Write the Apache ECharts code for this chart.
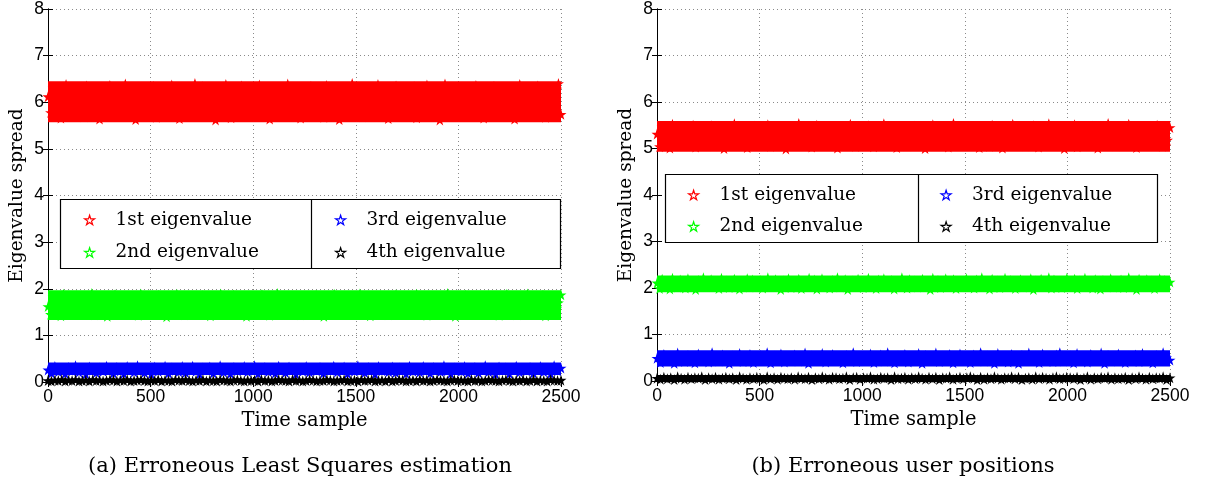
<!DOCTYPE html>
<html>
<head>
<meta charset="utf-8">
<script src="https://cdn.jsdelivr.net/npm/echarts@6/dist/echarts.min.js"></script>
<style>html,body{margin:0;padding:0;background:#fff;}#chart{width:1207px;height:487px;}</style>
</head>
<body>
<div id="chart"></div>
<script>
// ---------- data (sampled read-outs of the dense eigenvalue bands) ----------
const timeRange = [0, 2500];
const yTicks = [0, 1, 2, 3, 4, 5, 6, 7, 8];
const xTicks = [0, 500, 1000, 1500, 2000, 2500];
const seriesNames = ['1st eigenvalue', '2nd eigenvalue', '3rd eigenvalue', '4th eigenvalue'];
const captionA = '(a) Erroneous Least Squares estimation';
const captionB = '(b) Erroneous user positions';

// dense core of each band (where the 2500 markers overlap into a solid region): [low, high]
const lsCoreLow  = [5.57, 1.33, 0.15, 0.00];
const lsCoreHigh = [6.45, 1.97, 0.42, 0.07];
const upCoreLow  = [4.93, 1.91, 0.31, -0.01];
const upCoreHigh = [5.59, 2.27, 0.66, 0.13];

// (a) Erroneous Least Squares estimation
const lsEig1 = [6.12,5.78,6.31,5.95,6.04,5.66,6.22,6.38,5.84,6.01,5.72,6.27,5.91,6.15,5.69,6.35,6.08,5.81,6.19,5.97,
5.64,6.29,6.03,5.88,6.36,5.75,6.11,5.93,6.24,5.70,6.39,5.86,6.06,6.17,5.63,6.32,5.99,5.79,6.21,6.09,
5.83,6.34,5.68,6.14,5.96,6.26,5.74,6.02,6.37,5.89,6.18,5.65,6.30,5.92,6.07,5.77,6.23,6.40,5.85,6.00,
6.33,5.71,6.16,5.94,6.28,5.62,6.05,6.20,5.80,6.38,5.98,5.67,6.25,6.10,5.87,6.35,5.73,6.13,5.90,6.29,
5.76,6.06,6.37,5.82,6.19,5.97,5.64,6.31,6.02,5.88,6.24,5.70,6.15,6.39,5.93,5.79,6.27,6.04,5.66,6.21,
6.11,5.86,6.34,5.73,6.08,6.26,5.95,5.68,6.36,6.00,5.81,6.18,6.32,5.63,6.13,5.91,6.23,5.77,6.40,6.03,
5.89,6.17,5.69,6.30,6.07,5.84,6.22,5.96,6.38,5.74,6.12,6.01,5.65,6.28,5.92,6.35,5.80,6.09,6.19,5.71,
6.25,5.98,6.33,5.67,6.14,5.87,6.05,6.37,5.78,6.20,5.94,6.29,5.62,6.10,6.39,5.85,6.02,6.24,5.75,6.16,
5.99,6.31,5.72,6.06,6.27,5.83,6.36,5.90,6.13,5.66,6.21,6.04,5.79,6.34,5.96,6.18,5.70,6.08,6.30,5.88,
6.15,5.64,6.23,6.38,5.93,6.01,5.76,6.26,6.11,5.82,6.35,5.97,6.07,5.68,6.32,6.19,5.86,6.03,6.40,5.74];
const lsEig2 = [1.62,1.45,1.83,1.57,1.71,1.42,1.88,1.66,1.50,1.77,1.59,1.85,1.47,1.69,1.79,1.53,1.64,1.90,1.44,1.74,
1.56,1.81,1.68,1.41,1.76,1.60,1.87,1.49,1.72,1.63,1.84,1.46,1.58,1.80,1.67,1.43,1.89,1.55,1.70,1.61,
1.78,1.48,1.65,1.86,1.52,1.73,1.40,1.82,1.60,1.69,1.88,1.54,1.75,1.44,1.66,1.83,1.51,1.77,1.63,1.47,
1.85,1.58,1.71,1.42,1.80,1.64,1.50,1.89,1.67,1.56,1.74,1.45,1.86,1.61,1.79,1.53,1.68,1.41,1.84,1.72,
1.49,1.76,1.62,1.87,1.55,1.70,1.43,1.81,1.65,1.90,1.52,1.73,1.59,1.46,1.83,1.68,1.57,1.78,1.44,1.66,
1.82,1.54,1.69,1.48,1.86,1.63,1.75,1.41,1.60,1.79,1.51,1.88,1.67,1.45,1.72,1.84,1.58,1.64,1.47,1.77,
1.61,1.89,1.50,1.74,1.66,1.42,1.80,1.57,1.71,1.85,1.53,1.68,1.44,1.76,1.62,1.87,1.49,1.73,1.59,1.83,
1.46,1.70,1.64,1.88,1.52,1.78,1.60,1.43,1.84,1.67,1.55,1.81,1.48,1.75,1.63,1.90,1.56,1.69,1.41,1.79,
1.65,1.51,1.86,1.58,1.72,1.45,1.82,1.62,1.77,1.47,1.69,1.85,1.54,1.66,1.80,1.43,1.73,1.59,1.88,1.50,
1.76,1.63,1.44,1.83,1.57,1.71,1.89,1.48,1.67,1.79,1.53,1.64,1.86,1.42,1.74,1.61,1.81,1.55,1.70,1.87];
const lsEig3 = [0.26,0.19,0.33,0.22,0.29,0.18,0.31,0.24,0.35,0.21,0.28,0.17,0.32,0.25,0.20,0.30,0.23,0.34,0.27,0.19,
0.31,0.24,0.18,0.33,0.26,0.21,0.35,0.28,0.20,0.29,0.17,0.32,0.23,0.27,0.34,0.19,0.30,0.25,0.22,0.33,
0.20,0.28,0.34,0.23,0.17,0.30,0.26,0.32,0.19,0.25,0.35,0.21,0.29,0.18,0.31,0.24,0.27,0.33,0.22,0.28,
0.35,0.18,0.27,0.31,0.22,0.29,0.19,0.34,0.25,0.20,0.32,0.26,0.17,0.30,0.23,0.33,0.21,0.28,0.24,0.31,
0.19,0.29,0.25,0.34,0.21,0.27,0.32,0.18,0.30,0.23,0.35,0.26,0.20,0.31,0.28,0.17,0.33,0.24,0.29,0.22,
0.32,0.20,0.30,0.26,0.18,0.34,0.23,0.29,0.21,0.33,0.25,0.19,0.31,0.27,0.22,0.35,0.24,0.18,0.30,0.26,
0.23,0.33,0.19,0.28,0.31,0.20,0.26,0.35,0.22,0.29,0.17,0.32,0.25,0.30,0.18,0.27,0.34,0.21,0.28,0.24,
0.31,0.19,0.26,0.33,0.22,0.29,0.18,0.35,0.24,0.30];
const lsEig4 = [0.03,0.02,0.04,0.03,0.05,0.02,0.04,0.03,0.05,0.02,0.03,0.04,0.02,0.05,0.03,0.04,0.02,0.03,0.05,0.04,
0.02,0.04,0.03,0.05,0.02,0.03,0.04,0.05,0.03,0.02,0.04,0.03,0.05,0.02,0.04,0.03,0.02,0.05,0.04,0.03,
0.05,0.03,0.02,0.04,0.03,0.05,0.02,0.04,0.03,0.02,0.05,0.04,0.03,0.02,0.04,0.05,0.03,0.02,0.04,0.03,
0.04,0.02,0.05,0.03,0.04,0.02,0.03,0.05,0.04,0.03,0.02,0.05,0.03,0.04,0.02,0.03,0.05,0.04,0.02,0.03,
0.03,0.05,0.04,0.02,0.03,0.04,0.05,0.02,0.03,0.04,0.02,0.05,0.03,0.04,0.05,0.02,0.03,0.04,0.02,0.05,
0.02,0.03,0.05,0.04,0.02,0.03,0.04,0.02,0.05,0.03,0.04,0.02,0.03,0.05,0.04,0.03,0.02,0.04,0.05,0.03,
0.04,0.03,0.02,0.05,0.03,0.04,0.02,0.03,0.05,0.04,0.03,0.02,0.04,0.05,0.03,0.02,0.04,0.03,0.05,0.02,
0.03,0.05,0.02,0.04,0.03,0.02,0.05,0.04,0.03,0.04];

// (b) Erroneous user positions
const upEig1 = [5.31,5.04,5.47,5.18,5.26,5.01,5.52,5.12,5.39,5.22,5.08,5.44,5.29,5.15,5.50,5.03,5.35,5.20,5.42,5.10,
5.24,5.49,5.06,5.33,5.17,5.45,5.00,5.28,5.38,5.13,5.53,5.21,5.07,5.41,5.27,5.02,5.36,5.16,5.48,5.25,
5.09,5.40,5.19,5.51,5.05,5.32,5.23,5.46,5.11,5.37,4.99,5.30,5.43,5.14,5.26,5.54,5.08,5.34,5.19,5.45,
5.03,5.29,5.50,5.16,5.39,5.07,5.24,5.47,5.12,5.33,5.01,5.42,5.21,5.36,5.10,5.52,5.27,5.05,5.44,5.18,
5.35,5.11,5.49,5.22,5.04,5.40,5.28,5.14,5.53,5.09,5.31,5.46,5.17,5.02,5.38,5.25,5.43,5.06,5.32,5.20,
5.48,5.13,5.27,5.41,5.00,5.34,5.19,5.51,5.08,5.23,5.45,5.15,5.37,5.03,5.30,5.54,5.12,5.26,5.42,5.07,
5.21,5.44,5.10,5.36,5.29,5.02,5.47,5.18,5.33,5.05,5.50,5.24,5.14,5.39,5.01,5.28,5.43,5.16,5.52,5.09,
5.37,5.20,5.45,5.06,5.32,5.15,5.49,5.25,5.03,5.41,5.11,5.34,5.53,5.19,5.27,5.08,5.46,5.22,5.00,5.38,
5.13,5.30,5.51,5.04,5.26,5.43,5.17,5.35,5.09,5.48,5.23,5.01,5.40,5.28,5.12,5.54,5.20,5.33,5.06,5.44,
5.27,5.10,5.39,5.52,5.16,5.31,5.02,5.47,5.21,5.35,5.07,5.42,5.29,5.14,5.50,5.24,5.05,5.37,5.18,5.45];
const upEig2 = [2.11,1.99,2.19,2.05,2.14,1.98,2.21,2.08,2.02,2.17,2.10,2.00,2.20,2.06,2.13,1.97,2.16,2.04,2.22,2.09,
2.03,2.18,2.07,2.12,1.99,2.21,2.05,2.15,2.01,2.10,2.19,2.08,1.98,2.14,2.06,2.20,2.02,2.17,2.11,2.04,
2.16,2.00,2.13,2.22,2.07,2.03,2.18,2.10,1.97,2.15,2.09,2.20,2.01,2.12,2.06,2.19,1.99,2.14,2.08,2.21,
2.05,2.17,1.98,2.11,2.20,2.04,2.13,2.00,2.16,2.09,2.22,2.02,2.07,2.18,1.97,2.12,2.15,2.03,2.19,2.10,
2.01,2.14,2.21,2.06,2.12,1.99,2.17,2.08,2.20,2.03,2.11,2.16,1.98,2.13,2.05,2.22,2.09,2.00,2.18,2.07,
2.15,2.02,2.10,2.19,2.04,2.13,1.97,2.21,2.07,2.16,2.01,2.12,2.20,2.06,2.09,2.18,1.99,2.14,2.03,2.11,
2.20,2.05,2.14,2.00,2.17,2.09,2.22,2.03,2.12,1.98,2.19,2.07,2.15,2.01,2.10,2.21,2.04,2.16,2.08,1.99,
2.13,2.18,2.02,2.11,2.06,2.20,1.97,2.15,2.09,2.19,2.04,2.12,2.22,2.00,2.17,2.07,2.14,2.01,2.10,2.21,
2.06,2.12,2.19,1.99,2.15,2.03,2.21,2.08,2.13,2.00,2.18,2.10,1.98,2.16,2.05,2.11,2.20,2.02,2.14,2.09,
2.17,2.01,2.10,2.22,2.07,2.14,1.97,2.19,2.04,2.12,2.18,2.06,2.15,1.99,2.11,2.20,2.03,2.16,2.08,2.13];
const upEig3 = [0.49,0.40,0.57,0.44,0.53,0.38,0.60,0.47,0.42,0.55,0.50,0.39,0.58,0.45,0.52,0.41,0.61,0.48,0.43,0.56,
0.51,0.38,0.54,0.46,0.59,0.42,0.50,0.57,0.40,0.48,0.55,0.44,0.61,0.39,0.53,0.47,0.58,0.41,0.52,0.45,
0.56,0.43,0.49,0.60,0.38,0.54,0.46,0.51,0.59,0.41,0.47,0.57,0.44,0.52,0.39,0.55,0.50,0.61,0.42,0.48,
0.53,0.45,0.58,0.40,0.50,0.56,0.43,0.61,0.47,0.39,0.54,0.49,0.57,0.41,0.52,0.46,0.59,0.38,0.55,0.44,
0.48,0.60,0.42,0.53,0.45,0.57,0.39,0.51,0.58,0.44,0.50,0.40,0.56,0.47,0.61,0.43,0.54,0.49,0.38,0.59,
0.46,0.52,0.41,0.57,0.49,0.38,0.55,0.44,0.60,0.48,0.53,0.40,0.58,0.45,0.51,0.42,0.56,0.61,0.43,0.50,
0.54,0.39,0.59,0.47,0.52,0.41,0.57,0.45,0.49,0.60,0.38,0.55,0.43,0.51,0.58,0.46,0.40,0.53,0.48,0.56,
0.42,0.59,0.47,0.52,0.39,0.55,0.44,0.61,0.50,0.45];
const upEig4 = [0.06,0.04,0.08,0.05,0.07,0.03,0.09,0.06,0.04,0.08,0.05,0.07,0.06,0.09,0.03,0.07,0.05,0.08,0.04,0.06,
0.08,0.05,0.07,0.03,0.09,0.06,0.04,0.07,0.05,0.08,0.06,0.03,0.09,0.05,0.07,0.04,0.08,0.06,0.05,0.07,
0.04,0.09,0.06,0.05,0.08,0.03,0.07,0.05,0.09,0.06,0.04,0.08,0.07,0.05,0.06,0.09,0.03,0.07,0.08,0.04,
0.07,0.06,0.09,0.04,0.05,0.08,0.06,0.07,0.03,0.09,0.05,0.06,0.08,0.04,0.07,0.05,0.09,0.06,0.04,0.08,
0.05,0.08,0.03,0.07,0.06,0.09,0.04,0.06,0.08,0.05,0.07,0.09,0.06,0.03,0.08,0.04,0.07,0.05,0.09,0.06,
0.04,0.07,0.06,0.09,0.05,0.08,0.03,0.06,0.07,0.04,0.09,0.05,0.08,0.06,0.04,0.07,0.09,0.05,0.06,0.08,
0.07,0.05,0.08,0.03,0.06,0.09,0.04,0.07,0.05,0.08,0.06,0.09,0.04,0.07,0.05,0.06,0.08,0.03,0.07,0.05,
0.09,0.06,0.04,0.08,0.05,0.07,0.06,0.09,0.03,0.07];

const colors = ['#ff0000', '#00ff00', '#0000ff', '#000000'];

// ---------- chart ----------
const STAR = 'path://M50,0 L61.2,34.5 L97.6,34.5 L68.2,55.9 L79.4,90.5 L50,69.1 L20.6,90.5 L31.8,55.9 L2.4,34.5 L38.8,34.5 Z';
const serifFont = '"DejaVu Serif", serif';
const sansFont = '"Liberation Sans", Arial, sans-serif';

function toPoints(vals) {
  const step = (timeRange[1] - timeRange[0]) / (vals.length - 1);
  return vals.map((v, i) => [timeRange[0] + i * step, v]);
}

const grids = [
  { left: 48, top: 7, width: 513, height: 375 },
  { left: 657, top: 6, width: 513, height: 375 }
];

const xAxes = [], yAxes = [];
grids.forEach((g, gi) => {
  const common = {
    gridIndex: gi, type: 'value', min: timeRange[0], max: timeRange[1], interval: xTicks[1] - xTicks[0],
    axisLine: { show: true, lineStyle: { color: '#000', width: 1 } },
    axisTick: { show: true, inside: true, length: 5, lineStyle: { color: '#000' } }
  };
  xAxes.push(Object.assign({}, common, {
    position: 'bottom',
    name: 'Time sample', nameLocation: 'middle', nameGap: 26,
    nameTextStyle: { fontFamily: serifFont, fontSize: 19.5, color: '#000' },
    axisLabel: { margin: 6, fontFamily: sansFont, fontSize: 17.5, color: '#000', formatter: v => String(v) },
    splitLine: { show: true, lineStyle: { color: '#8a8a8a', type: [1, 3], width: 1 } }
  }));
  xAxes.push(Object.assign({}, common, {
    position: 'top', axisLabel: { show: false }, splitLine: { show: false }
  }));
  const ycommon = {
    gridIndex: gi, type: 'value', min: yTicks[0], max: yTicks[yTicks.length - 1], interval: 1,
    axisLine: { show: true, lineStyle: { color: '#000', width: 1 } },
    axisTick: { show: true, inside: true, length: 5, lineStyle: { color: '#000' } }
  };
  yAxes.push(Object.assign({}, ycommon, {
    position: 'left',
    name: 'Eigenvalue spread', nameLocation: 'middle', nameGap: 21, nameRotate: 90,
    nameTextStyle: { fontFamily: serifFont, fontSize: 18.5, color: '#000' },
    axisLabel: { margin: 4, fontFamily: sansFont, fontSize: 17.5, color: '#000', formatter: v => String(v) },
    splitLine: { show: true, lineStyle: { color: '#8a8a8a', type: [1, 3], width: 1 } }
  }));
  yAxes.push(Object.assign({}, ycommon, {
    position: 'right', axisLabel: { show: false }, splitLine: { show: false }
  }));
});

const panelData = [
  [lsEig1, lsEig2, lsEig3, lsEig4],
  [upEig1, upEig2, upEig3, upEig4]
];
const panelCore = [[lsCoreLow, lsCoreHigh], [upCoreLow, upCoreHigh]];
const series = [];
panelData.forEach((arrs, gi) => {
  arrs.forEach((vals, si) => {
    series.push({
      type: 'scatter', name: seriesNames[si],
      xAxisIndex: gi * 2, yAxisIndex: gi * 2,
      symbol: STAR, symbolSize: 11, clip: false,
      itemStyle: { color: colors[si], opacity: 1 },
      data: toPoints(vals), z: 2 + si,
      markArea: {
        silent: true,
        itemStyle: { color: colors[si], opacity: 1, borderWidth: 0 },
        data: [[
          { xAxis: timeRange[0], yAxis: panelCore[gi][0][si] },
          { xAxis: timeRange[1], yAxis: panelCore[gi][1][si] }
        ]]
      }
    });
  });
});

function legendItem(si) {
  return { name: seriesNames[si], icon: STAR,
    itemStyle: { color: '#ffffff', borderColor: colors[si], borderWidth: 1.2 } };
}
function makeLegend(left, top, idxs, gap) {
  return {
    left: left, top: top, orient: 'vertical', padding: 0, itemGap: gap,
    itemWidth: 10, itemHeight: 10, selectedMode: false, z: 10,
    data: idxs.map(legendItem),
    textStyle: { fontFamily: serifFont, fontSize: 18.5, color: '#000', padding: [0, 0, 0, 16] }
  };
}
const legends = [
  makeLegend(84, 210.5, [0, 1], 13.5), makeLegend(335, 210.5, [2, 3], 13.5),
  makeLegend(688, 185.5, [0, 1], 12.5), makeLegend(940.5, 185.5, [2, 3], 12.5)
];

function box(x, y, w, h, divX) {
  return [
    { type: 'rect', z: 8, shape: { x: x, y: y, width: w, height: h },
      style: { fill: '#fff', stroke: '#000', lineWidth: 1.2 } },
    { type: 'line', z: 9, shape: { x1: divX, y1: y, x2: divX, y2: y + h },
      style: { stroke: '#000', lineWidth: 1.2 } }
  ];
}
function caption(text, x, y) {
  return { type: 'text', x: x, y: y, z: 9,
    style: { text: text, fill: '#000', fontFamily: serifFont, fontSize: 21, align: 'center', verticalAlign: 'middle' } };
}

const option = {
  animation: false,
  backgroundColor: '#fff',
  grid: grids,
  xAxis: xAxes,
  yAxis: yAxes,
  legend: legends,
  series: series,
  graphic: { elements: [].concat(
    box(60.5, 199.5, 500, 69, 311.5),
    box(665.5, 174.5, 492, 68, 918.5),
    [caption(captionA, 300, 467), caption(captionB, 903, 467)]
  ) }
};

const chart = echarts.init(document.getElementById('chart'), null, { renderer: 'canvas' });
chart.setOption(option);
</script>
</body>
</html>
